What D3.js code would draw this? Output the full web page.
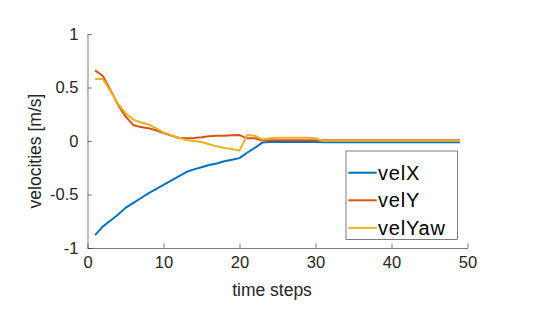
<!DOCTYPE html>
<html>
<head>
<meta charset="utf-8">
<script src="https://cdn.jsdelivr.net/npm/d3@7"></script>
<style>
  body { margin: 0; background: #fff; }
  text { font-family: "Liberation Sans", Arial, sans-serif; }
</style>
</head>
<body>
<div class="chart"></div>
<script>
// time steps 1..49
var steps = d3.range(1, 50);

var velX = [-0.88, -0.80, -0.745, -0.69, -0.625, -0.58, -0.535, -0.49, -0.45, -0.41,
            -0.37, -0.33, -0.29, -0.265, -0.245, -0.225, -0.21, -0.19, -0.175, -0.16,
            -0.11, -0.065, -0.015, -0.01, -0.01, -0.01, -0.01, -0.01, -0.01, -0.01,
            -0.012, -0.012, -0.012, -0.012, -0.012, -0.012, -0.012, -0.012, -0.012, -0.012,
            -0.012, -0.012, -0.012, -0.012, -0.012, -0.012, -0.012, -0.012, -0.012];

var velY = [0.66, 0.61, 0.48, 0.34, 0.23, 0.15, 0.13, 0.12, 0.10, 0.075,
            0.05, 0.03, 0.025, 0.027, 0.035, 0.045, 0.048, 0.05, 0.053, 0.055,
            0.025, 0.025, 0.005, 0.007, 0.008, 0.008, 0.008, 0.008, 0.008, 0.008,
            0.008, 0.008, 0.008, 0.008, 0.008, 0.008, 0.008, 0.008, 0.008, 0.008,
            0.008, 0.008, 0.008, 0.008, 0.008, 0.008, 0.008, 0.008, 0.008];

var velYaw = [0.58, 0.58, 0.47, 0.35, 0.26, 0.20, 0.175, 0.155, 0.12, 0.08,
              0.055, 0.03, 0.01, 0.0, -0.01, -0.03, -0.05, -0.065, -0.075, -0.09,
              0.055, 0.05, 0.015, 0.025, 0.03, 0.03, 0.03, 0.03, 0.03, 0.025,
              0.003, 0.003, 0.003, 0.003, 0.003, 0.003, 0.003, 0.003, 0.003, 0.003,
              0.003, 0.003, 0.003, 0.003, 0.003, 0.003, 0.003, 0.003, 0.003];

var seriesNames = ["velX", "velY", "velYaw"];
var seriesColors = ["#0072BD", "#D95319", "#EDB120"];
var xTicks = [0, 10, 20, 30, 40, 50];
var yTicks = [-1, -0.5, 0, 0.5, 1];

var W = 538, H = 312;
var margin = {top: 34, right: 70.5, bottom: 64, left: 87.5};
var width = W - margin.left - margin.right,
    height = H - margin.top - margin.bottom;

var svg = d3.select(".chart")
  .append("svg")
    .attr("width", W)
    .attr("height", H)
  .append("g")
    .attr("transform", "translate(" + margin.left + "," + margin.top + ")");

var x = d3.scaleLinear().domain([0, 50]).range([0, width]);
var y = d3.scaleLinear().domain([-1, 1]).range([height, 0]);

var axisColor = "#262626";

var xaxis = d3.axisBottom(x).tickValues(xTicks).tickSizeInner(-4.5).tickSizeOuter(0).tickPadding(8);
var yaxis = d3.axisLeft(y).tickValues(yTicks).tickSizeInner(-4.5).tickSizeOuter(0).tickPadding(9)
  .tickFormat(function(d) { return String(d); });

var gx = svg.append("g")
    .attr("class", "x axis")
    .attr("transform", "translate(0," + height + ")")
    .call(xaxis);
var gy = svg.append("g")
    .attr("class", "y axis")
    .call(yaxis);

[gx, gy].forEach(function(g) {
  g.select(".domain").attr("stroke", axisColor).attr("stroke-width", 0.6);
  g.selectAll(".tick line").attr("stroke", axisColor).attr("stroke-width", 0.6);
  g.selectAll(".tick text")
    .attr("fill", "#262626")
    .style("font-size", "16.5px")
    .style("font-family", "'Liberation Sans', Arial, sans-serif");
});

// axis labels
svg.append("text")
    .attr("x", 272 - margin.left)
    .attr("y", height + 47.5)
    .attr("text-anchor", "middle")
    .attr("fill", "#262626")
    .style("font-size", "17.5px")
    .text("time steps");

svg.append("text")
    .attr("transform", "translate(" + (-46.5) + "," + (151 - margin.top) + ") rotate(-90)")
    .attr("text-anchor", "middle")
    .attr("fill", "#262626")
    .style("font-size", "17.5px")
    .text("velocities [m/s]");

// lines
var data = [velX, velY, velYaw];
var line = d3.line()
    .x(function(d, i) { return x(steps[i]); })
    .y(function(d) { return y(d); });

svg.append("g")
  .selectAll("path")
  .data(data)
  .enter().append("path")
    .attr("fill", "none")
    .attr("stroke", function(d, i) { return seriesColors[i]; })
    .attr("stroke-width", 2)
    .attr("stroke-linejoin", "round")
    .attr("d", line);

// legend
var lg = svg.append("g")
    .attr("transform", "translate(" + (346 - margin.left) + "," + (151 - margin.top) + ")");

lg.append("rect")
    .attr("width", 111.5)
    .attr("height", 88.5)
    .attr("fill", "#fff")
    .attr("stroke", "#262626")
    .attr("stroke-width", 0.6);

var item = lg.selectAll(".item")
  .data(seriesNames)
  .enter().append("g")
    .attr("class", "item")
    .attr("transform", function(d, i) { return "translate(0," + (21.7 + i * 27.6) + ")"; });

item.append("line")
    .attr("x1", 2.3)
    .attr("x2", 30.7)
    .attr("stroke", function(d, i) { return seriesColors[i]; })
    .attr("stroke-width", 2);

item.append("text")
    .attr("x", 32)
    .attr("y", 6.8)
    .attr("fill", "#000")
    .style("font-size", "20px")
    .style("letter-spacing", "0.8px")
    .text(function(d) { return d; });
</script>
</body>
</html>
